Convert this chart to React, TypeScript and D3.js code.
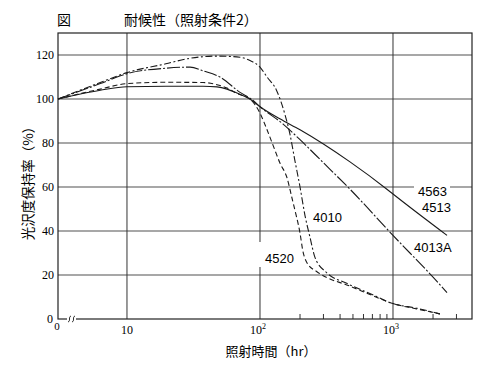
import React, { useEffect } from "react";
import * as d3 from "d3";

// gloss retention (%) vs irradiation time (hr)
const hours4563 = [0, 6.3, 10, 19.6, 37.3, 47.5, 56.5, 67, 84, 100, 141, 200, 475, 900, 1000, 2547];
const gloss4563 = [100, 104, 105.6, 105.8, 105.8, 105.5, 104.5, 102.7, 100, 96.5, 91, 86, 71.4, 59, 56.8, 38];

const hours4013A = [0, 6.3, 10, 19.6, 29.8, 37.3, 50, 70.8, 88, 100, 150, 200, 300, 475, 1000, 2000, 2547];
const gloss4013A = [100, 107, 111.5, 114, 114.5, 112.8, 110, 103, 99.5, 96.5, 88.5, 81.5, 71, 59, 38, 19, 12];

const hours4520 = [0, 6.3, 10, 19.6, 37.3, 47.5, 56.5, 67, 84, 100, 113, 129, 141, 160, 174, 183, 200, 210, 226, 268, 319, 449, 711, 1000, 1507, 2254];
const gloss4520 = [100, 104.5, 107, 107.6, 107.5, 106.5, 105, 102.5, 100, 93.6, 86, 77, 71, 64, 55, 49.5, 39, 31, 25.5, 21.5, 18.8, 15.5, 10.5, 7, 4.6, 2.3];

const hours4010 = [0, 6.3, 10, 19.6, 29.8, 47.5, 70.8, 84, 100, 113, 133, 154, 168, 183, 200, 218, 238, 259, 318, 449, 711, 1000, 1507, 2254];
const gloss4010 = [100, 107.5, 112, 116, 118.5, 119.5, 119, 117.5, 114.5, 110, 104, 93, 84, 72, 60, 47, 37, 28, 21, 16.2, 10.9, 7, 4.9, 2.3];

const yTicks = [20, 40, 60, 80, 100, 120];
const xGrid = [10, 100, 1000];
const xMinor = [200, 300, 400, 500, 600, 700, 800, 900, 2000, 3000];

const W = 500;
const H = 368;
const left = 58;
const right = 472;
const top = 33;
const bottom = 319;

const serif = "'Liberation Serif', 'DejaVu Serif', serif";
const sans = "'Liberation Sans', Arial, sans-serif";
const cjk = "'Noto Sans CJK JP', sans-serif";

const App = () => {
  useEffect(() => {
    const svg = d3.select("#gloss-chart");
    svg.selectAll("*").remove();

    const xLog = d3.scaleLog().domain([3.03, 3926]).range([left, right]);
    const x = (h: number) => (h <= 0 ? left : xLog(h));
    const y = d3.scaleLinear().domain([0, 130]).range([bottom, top]);

    svg.append("rect").attr("width", W).attr("height", H).attr("fill", "#fff");

    // grid
    svg
      .selectAll("line.hgrid")
      .data(yTicks)
      .enter()
      .append("line")
      .attr("class", "hgrid")
      .attr("x1", left)
      .attr("x2", right)
      .attr("y1", (d) => y(d))
      .attr("y2", (d) => y(d))
      .attr("stroke", "#8a8a8a")
      .attr("stroke-width", 1.3);
    svg
      .selectAll("line.vgrid")
      .data(xGrid)
      .enter()
      .append("line")
      .attr("class", "vgrid")
      .attr("x1", (d) => x(d))
      .attr("x2", (d) => x(d))
      .attr("y1", top)
      .attr("y2", bottom)
      .attr("stroke", "#333")
      .attr("stroke-width", 1);
    svg
      .selectAll("line.minor")
      .data(xMinor)
      .enter()
      .append("line")
      .attr("class", "minor")
      .attr("x1", (d) => x(d))
      .attr("x2", (d) => x(d))
      .attr("y1", bottom)
      .attr("y2", bottom - 5)
      .attr("stroke", "#333");

    // white patches where labels cut the grid
    svg.append("rect").attr("x", 414).attr("y", 183).attr("width", 36).attr("height", 14).attr("fill", "#fff");
    svg.append("rect").attr("x", 256).attr("y", 242).attr("width", 40).attr("height", 25).attr("fill", "#fff");

    const line = d3
      .line<[number, number]>()
      .x((d) => x(d[0]))
      .y((d) => y(d[1]))
      .curve(d3.curveMonotoneX);

    const series = [
      { h: hours4563, v: gloss4563, dash: null },
      { h: hours4013A, v: gloss4013A, dash: "13,2,2,2" },
      { h: hours4520, v: gloss4520, dash: "5,3" },
      { h: hours4010, v: gloss4010, dash: "7,2.5,2,2.5" },
    ];
    series.forEach((s) => {
      svg
        .append("path")
        .attr("d", line(s.h.map((h, i) => [h, s.v[i]] as [number, number])))
        .attr("fill", "none")
        .attr("stroke", "#1a1a1a")
        .attr("stroke-width", 1.1)
        .attr("stroke-dasharray", s.dash);
    });

    // frame
    svg
      .append("rect")
      .attr("x", left)
      .attr("y", top)
      .attr("width", right - left)
      .attr("height", bottom - top)
      .attr("fill", "none")
      .attr("stroke", "#222")
      .attr("stroke-width", 1.2);

    // axis break
    svg.append("rect").attr("x", 67).attr("y", 316).attr("width", 9).attr("height", 6).attr("fill", "#fff");
    [68, 72].forEach((bx) => {
      svg
        .append("path")
        .attr("d", `M${bx},${bottom + 3} C${bx + 3},${bottom + 2} ${bx},${bottom - 2} ${bx + 3},${bottom - 3}`)
        .attr("fill", "none")
        .attr("stroke", "#222");
    });

    // y tick labels
    svg
      .selectAll("text.ytick")
      .data([0, ...yTicks])
      .enter()
      .append("text")
      .attr("class", "ytick")
      .attr("x", (d) => (d === 0 ? 53 : 54))
      .attr("y", (d) => y(d) + 4)
      .attr("text-anchor", "end")
      .style("font-family", serif)
      .style("font-size", "12px")
      .text((d) => d);

    // x tick labels
    svg
      .append("text")
      .attr("x", left - 1)
      .attr("y", 330)
      .attr("text-anchor", "middle")
      .style("font-family", serif)
      .style("font-size", "11px")
      .text("0");
    svg
      .selectAll("text.xtick")
      .data(xGrid)
      .enter()
      .append("text")
      .attr("class", "xtick")
      .attr("x", (d) => x(d) - (d === 10 ? 0 : 2))
      .attr("y", 334)
      .attr("text-anchor", "middle")
      .style("font-family", serif)
      .style("font-size", "12px")
      .each(function (d) {
        const t = d3.select(this);
        t.append("tspan").text("10");
        if (d > 10) {
          t.append("tspan")
            .attr("dy", -5)
            .style("font-size", "8px")
            .text(String(Math.round(Math.log10(d))));
        }
      });

    // axis titles
    svg
      .append("text")
      .attr("x", 271)
      .attr("y", 356)
      .attr("text-anchor", "middle")
      .style("font-family", cjk)
      .style("font-size", "13px")
      .text("照射時間（hr）");
    svg
      .append("text")
      .attr("transform", "translate(33,180) rotate(-90)")
      .attr("text-anchor", "middle")
      .style("font-family", cjk)
      .style("font-size", "13.5px")
      .text("光沢度保持率（%）");

    // title
    svg
      .append("text")
      .attr("x", 57)
      .attr("y", 25)
      .style("font-family", cjk)
      .style("font-size", "14px")
      .text("図");
    svg
      .append("text")
      .attr("x", 124)
      .attr("y", 25)
      .style("font-family", cjk)
      .style("font-size", "14px")
      .text("耐候性（照射条件2）");

    // curve labels
    const labels = [
      { t: "4563", x: 418, y: 196 },
      { t: "4513", x: 422, y: 212 },
      { t: "4013A", x: 414, y: 252 },
      { t: "4010", x: 313, y: 222 },
      { t: "4520", x: 265, y: 263 },
    ];
    svg
      .selectAll("text.lab")
      .data(labels)
      .enter()
      .append("text")
      .attr("class", "lab")
      .attr("x", (d) => d.x)
      .attr("y", (d) => d.y)
      .style("font-family", sans)
      .style("font-size", "13px")
      .text((d) => d.t);
  }, []);

  return (
    <svg
      id="gloss-chart"
      width={W}
      height={H}
      style={{ position: "absolute", left: 0, top: 0 }}
    ></svg>
  );
};

export default App;
